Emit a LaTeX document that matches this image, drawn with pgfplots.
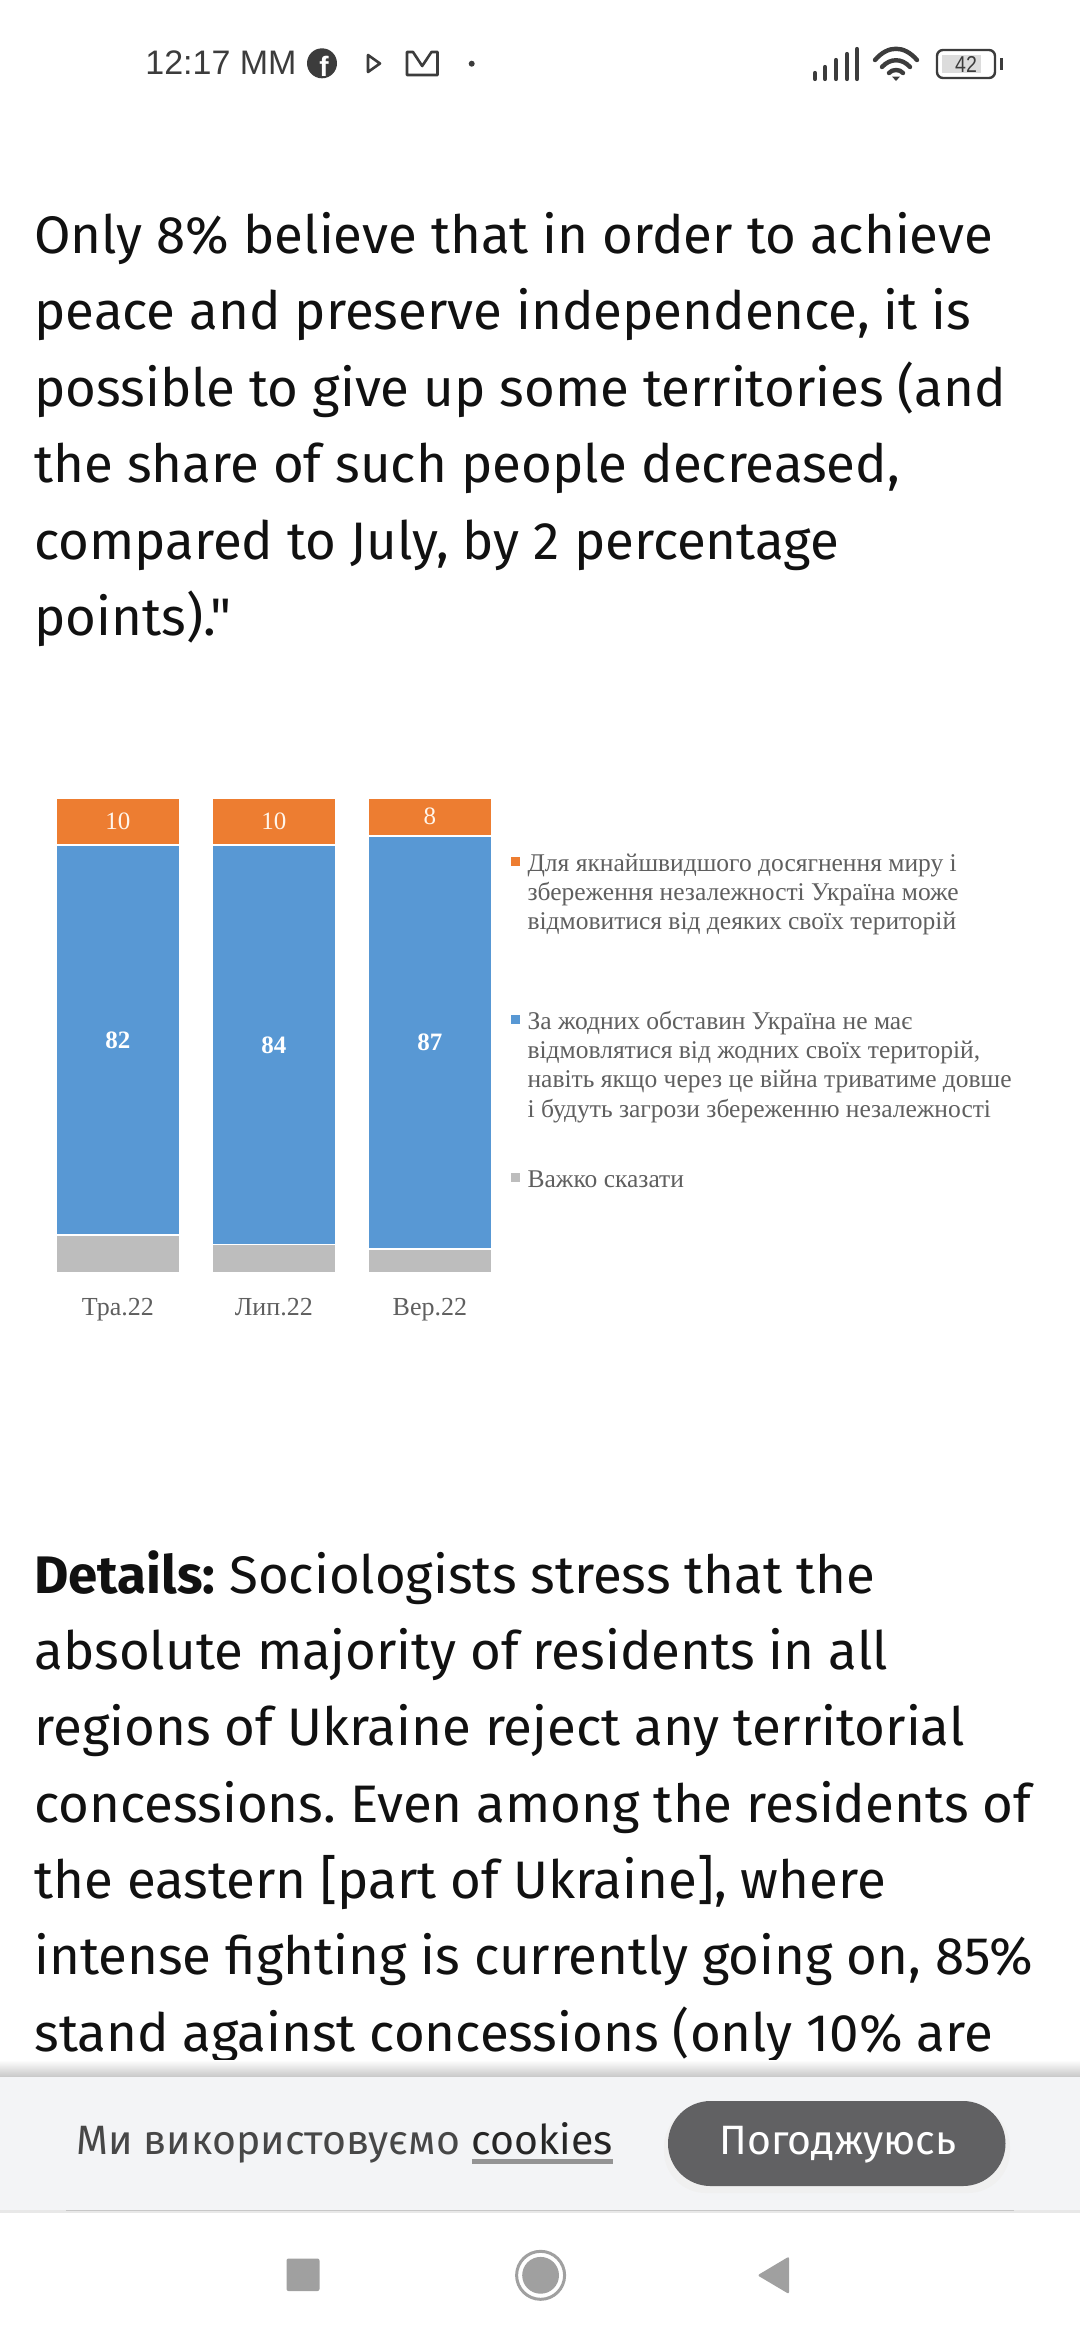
\documentclass[border=0pt]{standalone}
\usepackage{fontspec}
\setmainfont{Liberation Serif}
\newfontfamily\fira{Fira Sans}
\newfontfamily\arial{Liberation Sans}
\usepackage{pgfplots}
\pgfplotsset{compat=1.18}
\definecolor{barorange}{HTML}{ED7D31}
\definecolor{barblue}{HTML}{5898D4}
\definecolor{bargray}{HTML}{BDBDBD}
\definecolor{chartgray}{HTML}{5F5F5F}
\definecolor{bodyink}{HTML}{111111}
\definecolor{cookiebg}{HTML}{F3F4F6}
\definecolor{btn}{HTML}{616163}
\definecolor{navgray}{HTML}{A0A0A0}
\definecolor{statusink}{HTML}{3C3C3C}
% one picture pixel = 0.5pt
\newcommand{\legtext}[1]{\parbox[t]{260pt}{\fontsize{12.75}{14.65}\selectfont\strut #1}}
\begin{document}
\frenchspacing
\begin{tikzpicture}
\fill[white] (0,0) rectangle (540pt,-1170pt);

\begin{scope}[x=.5pt,y=-.5pt]
% status bar
\node[anchor=base west,inner sep=0,text=statusink] at (145,74) {\arial\fontsize{17}{17}\selectfont 12:17 MM};
\fill[statusink] (322,63.3) circle[radius=7.5pt];
\node[anchor=center,inner sep=0,text=white] at (324,66) {\arial\bfseries\fontsize{14}{14}\selectfont f};
\draw[statusink,line width=1.3pt,line join=round] (368,55) -- (380,63.5) -- (368,72) -- cycle;
\draw[statusink,line width=1.3pt,line join=round] (407,75) -- (407,52) -- (413,52) -- (422.2,66) -- (431.5,52) -- (437.5,52) -- (437.5,75) -- cycle;
\fill[statusink] (471.7,63.7) circle[radius=1.5pt];
\foreach \x/\t in {815/73,825/67,836/60,847/54,857/49}
  \draw[statusink,line width=2.1pt,line cap=round] (\x,79) -- (\x,\t);
\draw[statusink,line width=2.2pt,line cap=round] (875,60) .. controls (888,45) and (904,45) .. (917,60);
\draw[statusink,line width=2.2pt,line cap=round] (882,67) .. controls (890,58) and (902,58) .. (910,67);
\draw[statusink,line width=2.2pt,line cap=round] (889,73) .. controls (892,69) and (900,69) .. (903,73);
\fill[statusink] (896,81) -- (892,76.5) -- (900,76.5) -- cycle;
\draw[statusink,line width=1.2pt,rounded corners=3pt] (937,50) rectangle (995,78);
\fill[statusink!18] (942,55) rectangle (981,73);
\fill[statusink] (999.5,58) rectangle (1002.5,70);
\node[anchor=center,inner sep=0,text=statusink,xscale=.85,transform shape] at (966,64) {\arial\fontsize{11.5}{11.5}\selectfont 42};

% text above the chart
\begin{scope}[every node/.style={anchor=base west,inner sep=0,text=bodyink,font=\fira\fontsize{26.4}{26.4}\selectfont}]
\node at (34,253) {Only 8\% believe that in order to achieve};
\node at (34,329.5) {peace and preserve independence, it is};
\node at (34,406) {possible to give up some territories (and};
\node at (34,482.5) {the share of such people decreased,};
\node at (34,559) {compared to July, by 2 percentage};
\node at (34,635) {points)."};
% text below the chart
\node at (34,1593) {\bfseries Details:\mdseries{} Sociologists stress that the};
\node at (34,1669) {absolute majority of residents in all};
\node at (34,1745.5) {regions of Ukraine reject any territorial};
\node at (34,1822) {concessions. Even among the residents of};
\node at (34,1898) {the eastern [part of Ukraine], where};
\node at (34,1974.5) {intense fighting is currently going on, 85\%};
\node at (34,2051) {stand against concessions (only 10\% are};
\end{scope}

% cookie bar
\shade[top color=white,bottom color=black!22] (0,2060) rectangle (1080,2077);
\fill[cookiebg] (0,2077) rectangle (1080,2212.5);
\fill[black!9] (0,2210) rectangle (1080,2212.5);
\draw[black!22,line width=.5pt] (66,2210.5) -- (1014,2210.5);
\fill[black!6,rounded corners=21pt] (664,2105) rectangle (1010,2193);
\fill[btn,rounded corners=21.25pt] (668,2101) rectangle (1005.5,2186);
\node[anchor=base west,inner sep=0,text=black!72] at (76,2154) {\fira\fontsize{20.5}{20.5}\selectfont Ми використовуємо};
\node[anchor=base east,inner sep=0,text=black!85] at (613,2154) {\fira\fontsize{20.5}{20.5}\selectfont cookies};
\fill[black!42] (472,2159) rectangle (613,2163.5);
\node[anchor=base,inner sep=0,text=white] at (838,2154) {\fira\fontsize{20.5}{20.5}\selectfont Погоджуюсь};

% navigation bar
\fill[navgray,rounded corners=1pt] (286.5,2258.5) rectangle (319.5,2291);
\draw[navgray,line width=1.5pt] (540.6,2275.3) circle[radius=12pt];
\fill[navgray] (540.6,2275.3) circle[radius=9.2pt];
\fill[navgray,rounded corners=1pt] (789,2256.5) -- (789,2294) -- (757.5,2275.3) -- cycle;
\end{scope}

\begin{axis}[
    at={(19.925pt,-398.8pt)},
    anchor=north west,
    scale only axis,
    width=234pt,
    height=237.75pt,
    ybar stacked,
    bar width=62pt,
    xmin=-0.5, xmax=2.5,
    ymin=0, ymax=100,
    xtick=data,
    xticklabels={Тра.22,Лип.22,Вер.22},
    ytick=\empty,
    axis line style={draw=none},
    major tick length=0pt,
    x tick label style={text=chartgray,font=\fontsize{13}{13}\selectfont,yshift=-9.2pt},
    clip=false,
    /pgf/number format/assume math mode=true,
    reverse legend=true,
    legend cell align=left,
    legend style={
        draw=none,fill=none,text=chartgray,
        at={(1.0067,0.889)},anchor=north west,
        inner sep=0pt,row sep=67.2pt,column sep=3.7pt,
        nodes={inner sep=0pt,anchor=base west},
    },
    legend image code/.code={\path[#1,draw=none] (0pt,2.8pt) rectangle (4.4pt,7.2pt);},
    every axis plot/.append style={draw=white,line width=.9pt},
]
\addplot[fill=bargray] coordinates {(0,8) (1,6) (2,5)};
\addplot[fill=barblue,
    nodes near coords,
    nodes near coords style={anchor=center,text=white,font=\bfseries\fontsize{12.5}{12.5}\selectfont},
    ] coordinates {(0,82) (1,84) (2,87)};
\addplot[fill=barorange,
    nodes near coords,
    nodes near coords style={anchor=center,text=white!92!orange,font=\fontsize{12.5}{12.5}\selectfont},
    ] coordinates {(0,10) (1,10) (2,8)};
\addlegendentry{\legtext{Важко сказати}}
\addlegendentry{\legtext{За жодних обставин Україна не має\\відмовлятися від жодних своїх територій,\\навіть якщо через це війна триватиме довше\\і будуть загрози збереженню незалежності}}
\addlegendentry{\legtext{Для якнайшвидшого досягнення миру і\\збереження незалежності Україна може\\відмовитися від деяких своїх територій}}
\end{axis}
\pgfresetboundingbox
\path[use as bounding box] (0,0) rectangle (540pt,-1170pt);
\end{tikzpicture}
\end{document}
